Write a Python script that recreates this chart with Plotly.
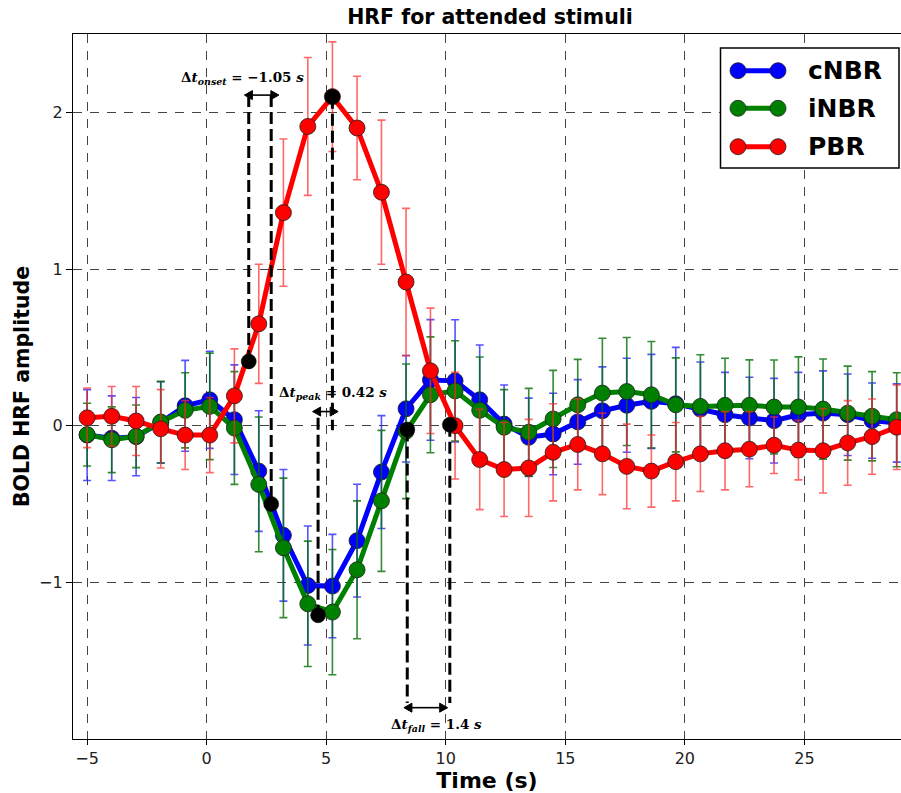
import plotly.graph_objects as go

# ---------------- data ----------------
time_s = [-5.00, -3.97, -2.95, -1.92, -0.90, 0.13, 1.16, 2.18, 3.21, 4.23,
          5.26, 6.29, 7.31, 8.34, 9.36, 10.39, 11.42, 12.44, 13.47, 14.49,
          15.52, 16.55, 17.57, 18.60, 19.62, 20.65, 21.68, 22.70, 23.73, 24.75,
          25.78, 26.81, 27.83, 28.86]

cnbr = [-0.06, -0.08, -0.07, 0.02, 0.127, 0.165, 0.038, -0.29, -0.70, -1.02,
        -1.024, -0.734, -0.296, 0.108, 0.292, 0.286, 0.165, 0.01, -0.074, -0.053,
        0.024, 0.095, 0.13, 0.155, 0.14, 0.106, 0.07, 0.049, 0.032, 0.07,
        0.08, 0.07, 0.032, 0.017]
cnbr_err = [0.29, 0.27, 0.25, 0.26, 0.29, 0.31, 0.35, 0.385, 0.42, 0.38,
            0.33, 0.36, 0.36, 0.34, 0.385, 0.39, 0.35, 0.25, 0.25, 0.26,
            0.27, 0.28, 0.30, 0.30, 0.36, 0.30, 0.27, 0.26, 0.27, 0.27,
            0.27, 0.26, 0.24, 0.25]

inbr = [-0.057, -0.09, -0.068, 0.023, 0.098, 0.123, -0.015, -0.375, -0.78, -1.137,
        -1.19, -0.92, -0.48, -0.036, 0.197, 0.222, 0.098, -0.01, -0.042, 0.043,
        0.133, 0.208, 0.218, 0.197, 0.133, 0.123, 0.13, 0.13, 0.119, 0.119,
        0.106, 0.08, 0.06, 0.038]
inbr_err = [0.20, 0.21, 0.20, 0.26, 0.24, 0.34, 0.36, 0.43, 0.445, 0.40,
            0.40, 0.44, 0.45, 0.43, 0.37, 0.32, 0.34, 0.24, 0.28, 0.31,
            0.29, 0.35, 0.345, 0.34, 0.30, 0.33, 0.30, 0.29, 0.30, 0.32,
            0.32, 0.30, 0.285, 0.30]

pbr = [0.05, 0.06, 0.03, -0.02, -0.06, -0.06, 0.19, 0.65, 1.36, 1.91,
       2.10, 1.90, 1.49, 0.917, 0.35, 0.0, -0.216, -0.28, -0.27, -0.17,
       -0.12, -0.18, -0.26, -0.29, -0.23, -0.18, -0.16, -0.15, -0.125, -0.156,
       -0.16, -0.11, -0.07, -0.01]
pbr_err = [0.19, 0.19, 0.22, 0.25, 0.22, 0.24, 0.30, 0.38, 0.47, 0.44,
           0.35, 0.33, 0.46, 0.47, 0.40, 0.34, 0.32, 0.30, 0.31, 0.31,
           0.29, 0.26, 0.27, 0.23, 0.25, 0.24, 0.25, 0.24, 0.18, 0.19,
           0.27, 0.27, 0.24, 0.27]

series_names = ["cNBR", "iNBR", "PBR"]
series_values = [cnbr, inbr, pbr]
series_errors = [cnbr_err, inbr_err, pbr_err]
series_colors = ["#0000ff", "#008000", "#ff0000"]
error_colors = ["rgba(40,40,255,0.8)", "rgba(0,110,0,0.8)", "rgba(255,40,40,0.7)"]

# key time points (black dots)
key_t = [1.76, 2.70, 5.26, 4.66, 8.39, 10.17]
key_y = [0.41, -0.50, 2.10, -1.21, -0.025, 0.006]

# delta annotations
delta_labels = [
    "<b>Δ<i>t</i><sub><i>onset</i></sub> = −1.05 <i>s</i></b>",
    "<b>Δ<i>t</i><sub><i>peak</i></sub> = 0.42 <i>s</i></b>",
    "<b>Δ<i>t</i><sub><i>fall</i></sub> = 1.4 <i>s</i></b>",
]
delta_text_x = [1.50, 5.27, 9.60]
delta_text_y = [2.22, 0.21, -1.91]
delta_arrow_x0 = [1.58, 4.43, 8.25]
delta_arrow_x1 = [3.02, 5.50, 10.08]
delta_arrow_y = [2.11, 0.09, -1.80]
# vertical dashed guide lines: (time, y_top, y_bottom)
guide_t = [1.76, 2.70, 5.26, 4.66, 8.39, 10.17]
guide_y_top = [2.11, 2.11, 2.10, 0.05, -0.025, 0.006]
guide_y_bot = [0.41, -0.50, -0.03, -1.21, -1.77, -1.77]

x_ticks = [-5, 0, 5, 10, 15, 20, 25]
y_ticks = [-1, 0, 1, 2]

X_RANGE = [-5.59, 29.04]
Y_RANGE = [-2.0, 2.5]

# ---------------- figure ----------------
L, T = 73, 34
PW, PH = 828, 705
sx = PW / (X_RANGE[1] - X_RANGE[0])   # px per second
sy = PH / (Y_RANGE[1] - Y_RANGE[0])   # px per unit

fig = go.Figure()

for name, vals, errs, col, ecol in zip(series_names, series_values, series_errors,
                                       series_colors, error_colors):
    fig.add_trace(go.Scatter(
        x=time_s, y=vals, name=name, mode="lines+markers",
        line=dict(color=col, width=5),
        marker=dict(color=col, size=16, line=dict(color="#202020", width=0.8)),
        error_y=dict(type="data", array=errs, visible=True, color=ecol,
                     thickness=1.6, width=4),
        showlegend=False,
    ))

fig.add_trace(go.Scatter(
    x=key_t, y=key_y, mode="markers",
    marker=dict(color="black", size=15, line=dict(color="black", width=0.5)),
    showlegend=False,
))

shapes = []
for t, y0, y1 in zip(guide_t, guide_y_top, guide_y_bot):
    shapes.append(dict(type="line", xref="x", yref="y", x0=t, x1=t, y0=y0, y1=y1,
                       line=dict(color="black", width=3, dash="12px,5px"), layer="above"))

annotations = []
head_len = 8 / sx
head_half = 4.5 / sy
for lab, tx, ty, ax0, ax1, ay in zip(delta_labels, delta_text_x, delta_text_y,
                                     delta_arrow_x0, delta_arrow_x1, delta_arrow_y):
    annotations.append(dict(x=tx, y=ty, xref="x", yref="y", text=lab, showarrow=False,
                            font=dict(family="DejaVu Serif", size=13.5, color="black")))
    # double-headed arrow: shaft + two filled heads
    shapes.append(dict(type="line", xref="x", yref="y",
                       x0=ax0 + head_len * 0.8, x1=ax1 - head_len * 0.8, y0=ay, y1=ay,
                       line=dict(color="black", width=1.6), layer="above"))
    shapes.append(dict(type="path", xref="x", yref="y",
                       path=f"M {ax0} {ay} L {ax0 + head_len} {ay + head_half} "
                            f"L {ax0 + head_len} {ay - head_half} Z",
                       fillcolor="black", line=dict(color="black", width=1), layer="above"))
    shapes.append(dict(type="path", xref="x", yref="y",
                       path=f"M {ax1} {ay} L {ax1 - head_len} {ay + head_half} "
                            f"L {ax1 - head_len} {ay - head_half} Z",
                       fillcolor="black", line=dict(color="black", width=1), layer="above"))

# custom legend (line with markers at both ends, as in the original)
def px_x(p):
    return (p - L) / PW
def px_y(p):
    return (T + PH - p) / PH

shapes.append(dict(type="rect", xref="paper", yref="paper",
                   x0=px_x(720.5), x1=px_x(899), y0=px_y(168), y1=px_y(48),
                   line=dict(color="black", width=1.5), fillcolor="white", layer="above"))
legend_rows = [70.7, 108.3, 146.7]
r = 8
for name, col, yy in zip(series_names, series_colors, legend_rows):
    shapes.append(dict(type="line", xref="paper", yref="paper",
                       x0=px_x(738), x1=px_x(778), y0=px_y(yy), y1=px_y(yy),
                       line=dict(color=col, width=5), layer="above"))
    for cx in (738, 778):
        shapes.append(dict(type="circle", xref="paper", yref="paper",
                           x0=px_x(cx - r), x1=px_x(cx + r),
                           y0=px_y(yy + r), y1=px_y(yy - r),
                           fillcolor=col, line=dict(color="#202020", width=0.8),
                           layer="above"))
    annotations.append(dict(x=px_x(806), y=px_y(yy), xref="paper", yref="paper",
                            xanchor="left", yanchor="middle", showarrow=False,
                            text="<b>" + name + "</b>",
                            font=dict(family="DejaVu Sans", size=25, color="black")))

fig.update_layout(
    width=901, height=793,
    margin=dict(l=L, r=0, t=T, b=793 - T - PH),
    paper_bgcolor="white", plot_bgcolor="white",
    title=dict(text="<b>HRF for attended stimuli</b>", x=490 / 901,
               xanchor="center", y=1 - 17 / 793, yanchor="middle",
               font=dict(family="DejaVu Sans", size=20.5, color="black")),
    font=dict(family="DejaVu Sans", color="#222222"),
    shapes=shapes, annotations=annotations,
    showlegend=False,
)
fig.update_xaxes(
    range=X_RANGE, tickvals=x_ticks, ticktext=[str(v).replace("-", "−") for v in x_ticks],
    showgrid=True, gridcolor="#444444", gridwidth=1, griddash="9px,8px",
    zeroline=False, showline=True, linecolor="black", linewidth=1.3, mirror=True,
    ticks="outside", ticklen=5, tickcolor="black",
    tickfont=dict(size=16, color="#222222"),
    title=dict(text="<b>Time (s)</b>", font=dict(size=22, color="black"), standoff=7),
)
fig.update_yaxes(
    range=Y_RANGE, tickvals=y_ticks, ticktext=[str(v).replace("-", "−") for v in y_ticks],
    showgrid=True, gridcolor="#444444", gridwidth=1, griddash="9px,8px",
    zeroline=False, showline=True, linecolor="black", linewidth=1.3, mirror=True,
    ticks="outside", ticklen=6, tickcolor="black",
    tickfont=dict(size=16, color="#222222"),
    title=dict(text="<b>BOLD HRF amplitude</b>", font=dict(size=20.5, color="black"), standoff=3),
)

fig.write_html("out.html")
